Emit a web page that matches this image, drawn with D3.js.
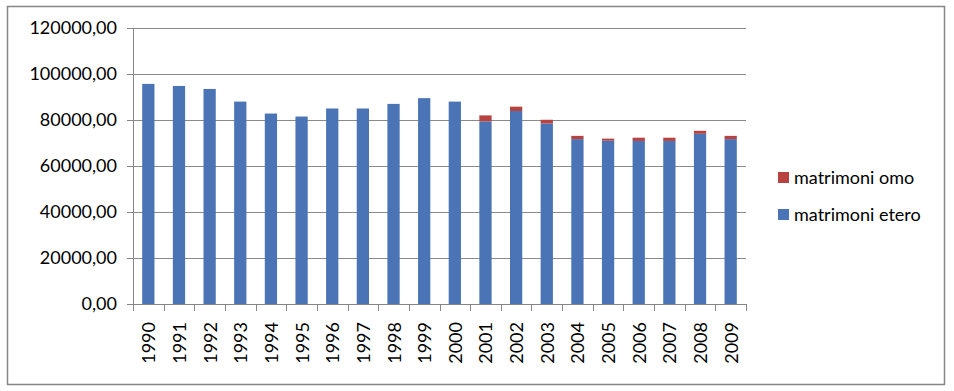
<!DOCTYPE html>
<html>
<head>
<meta charset="utf-8">
<script src="https://cdn.jsdelivr.net/npm/d3@7"></script>
<style>
  body { margin: 0; background: #fff; }
  text { font-family: Lato, "Open Sans", sans-serif; fill: #000; }
</style>
</head>
<body>
<div id="chart"></div>
<script>
var years = ["1990","1991","1992","1993","1994","1995","1996","1997","1998","1999",
             "2000","2001","2002","2003","2004","2005","2006","2007","2008","2009"];
var etero = [95700, 94800, 93500, 88000, 82800, 81500, 85000, 85000, 87000, 89500,
             88000, 79400, 83900, 78500, 71700, 71000, 70900, 70900, 74000, 71700];
var omo   = [0, 0, 0, 0, 0, 0, 0, 0, 0, 0,
             0, 2600, 1900, 1600, 1400, 900, 1400, 1400, 1300, 1400];
var yTicks = [0, 20000, 40000, 60000, 80000, 100000, 120000];
var seriesNames = ["matrimoni etero", "matrimoni omo"];
var colors = ["#4a74b6", "#b7423f"];

var svgWidth = 954;
var svgHeight = 391;
var margin = {top: 28, right: 208, bottom: 87, left: 133};
var width = svgWidth - margin.left - margin.right;
var height = svgHeight - margin.top - margin.bottom;

var svg = d3.select("#chart")
  .append("svg")
  .attr("width", svgWidth)
  .attr("height", svgHeight);

// outer frame
svg.append("rect")
  .attr("x", 7.5).attr("y", 6.5)
  .attr("width", 937).attr("height", 378)
  .attr("fill", "none")
  .attr("stroke", "#868686")
  .attr("stroke-width", 1.5);

var chartMain = svg.append("g")
  .attr("transform", `translate(${margin.left}, ${margin.top})`);

var x = d3.scaleBand().domain(years).range([0, width]).paddingInner(0.6).paddingOuter(0.3);
var xCat = d3.scaleBand().domain(years).range([0, width]);
var y = d3.scaleLinear().domain([0, 120000]).range([height, 0]);
var fmt = function(d) { return d3.format(".2f")(d).replace(".", ","); };

// gridlines
chartMain.append("g")
  .selectAll("line")
  .data(yTicks.filter(function(d) { return d > 0; }))
  .enter()
  .append("line")
  .attr("x1", 0).attr("x2", width)
  .attr("y1", function(d) { return Math.round(y(d)) + 0.5; })
  .attr("y2", function(d) { return Math.round(y(d)) + 0.5; })
  .attr("stroke", "#8a8a8a");

// stacked bars
var rows = years.map(function(yr, i) { return {year: yr, etero: etero[i], omo: omo[i]}; });
var stack = d3.stack().keys(["etero", "omo"])(rows);

chartMain.selectAll("g.series")
  .data(stack)
  .enter()
  .append("g")
  .attr("class", "series")
  .attr("fill", function(d, i) { return colors[i]; })
  .selectAll("rect")
  .data(function(d) { return d; })
  .enter()
  .append("rect")
  .attr("x", function(d) { return x(d.data.year); })
  .attr("width", x.bandwidth())
  .attr("y", function(d) { return y(d[1]); })
  .attr("height", function(d) { return y(d[0]) - y(d[1]); });

// y axis
var leftAxis = d3.axisLeft(y).tickValues(yTicks).tickSize(6).tickSizeOuter(0).tickPadding(10).tickFormat(fmt);
var gy = chartMain.append("g").call(leftAxis);
gy.select(".domain").attr("stroke", "#868686");
gy.selectAll(".tick line").attr("stroke", "#868686");
gy.selectAll("text").style("font-size", "18px").style("font-family", "Lato, sans-serif");

// x axis: ticks between categories
chartMain.append("line")
  .attr("x1", 0).attr("x2", width)
  .attr("y1", height + 0.5).attr("y2", height + 0.5)
  .attr("stroke", "#868686");

chartMain.append("g")
  .selectAll("line")
  .data(years.concat(["end"]))
  .enter()
  .append("line")
  .attr("x1", function(d, i) { return Math.round(i * xCat.step()) + 0.5; })
  .attr("x2", function(d, i) { return Math.round(i * xCat.step()) + 0.5; })
  .attr("y1", height).attr("y2", height + 7)
  .attr("stroke", "#868686");

chartMain.append("g")
  .selectAll("text")
  .data(years)
  .enter()
  .append("text")
  .attr("transform", function(d) {
    return `translate(${xCat(d) + xCat.bandwidth() / 2 + 7}, ${height + 18}) rotate(-90)`;
  })
  .attr("text-anchor", "end")
  .style("font-size", "18px")
  .text(function(d) { return d; });

// legend
var legendItems = [{name: seriesNames[1], color: colors[1]}, {name: seriesNames[0], color: colors[0]}];
var legend = svg.append("g").attr("transform", "translate(778, 172)");
var li = legend.selectAll("g")
  .data(legendItems)
  .enter()
  .append("g")
  .attr("transform", function(d, i) { return `translate(0, ${i * 37})`; });
li.append("rect").attr("width", 11).attr("height", 11).attr("fill", function(d) { return d.color; });
li.append("text")
  .attr("x", 16).attr("y", 12)
  .style("font-size", "18px")
  .text(function(d) { return d.name; });
</script>
</body>
</html>
